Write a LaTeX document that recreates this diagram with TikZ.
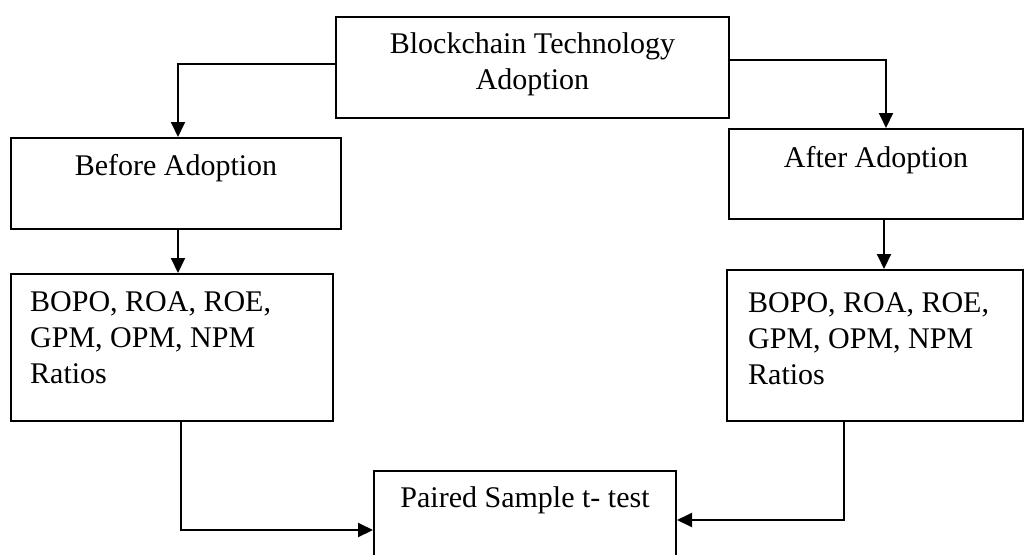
\documentclass[tikz,border=0pt]{standalone}
\usepackage{fontspec}
\setmainfont{Liberation Serif}
\usetikzlibrary{positioning,arrows.meta}

\begin{document}
\begin{tikzpicture}[
    x=1pt, y=-1pt,
    box/.style={rectangle, draw, line width=2pt, anchor=north west, inner sep=0pt},
    txt/.style={inner sep=0pt, font=\fontsize{30}{36}\selectfont},
    arrow/.style={-{Triangle[length=15pt,width=14pt]}, line width=2pt}
]
    \clip (0,0) rectangle (1024,554);

    % Boxes
    \node[box, minimum width=393pt, minimum height=101pt] (adopt) at (335,16) {};
    \node[box, minimum width=330pt, minimum height=91pt] (before) at (10,137) {};
    \node[box, minimum width=294pt, minimum height=90pt] (after) at (728,128) {};
    \node[box, minimum width=322pt, minimum height=147pt] (ratiob) at (10,273) {};
    \node[box, minimum width=296pt, minimum height=151pt] (ratioa) at (726,269) {};
    \node[box, minimum width=302pt, minimum height=118pt] (paired) at (373,470) {};

    % Texts
    \node[txt, align=center, below=16.5pt of adopt.north] (adopttxt) {Blockchain Technology\\Adoption};
    \node[txt, below=17.5pt of before.north] (beforetxt) {Before Adoption};
    \node[txt, below=18.5pt of after.north] (aftertxt) {After Adoption};
    \node[txt, align=left, below right=18.5pt and 20pt of ratiob.north west] (ratiobtxt) {BOPO, ROA, ROE,\\GPM, OPM, NPM\\Ratios};
    \node[txt, align=left, below right=23.5pt and 22pt of ratioa.north west] (ratioatxt) {BOPO, ROA, ROE,\\GPM, OPM, NPM\\Ratios};
    \node[txt, below=16.5pt of paired.north] (pairedtxt) {Paired Sample t- test};

    % Arrows
    \draw[arrow] ([yshift=3.5pt]adopt.west) -| ([xshift=2pt]before.north);
    \draw[arrow] ([yshift=7.5pt]adopt.east) -| ([xshift=10pt]after.north);
    \draw[arrow] ([xshift=2pt]before.south) -- ([xshift=2pt]before.south |- ratiob.north);
    \draw[arrow] ([xshift=8pt]after.south) -- ([xshift=8pt]after.south |- ratioa.north);
    \draw[arrow] ([xshift=9pt]ratiob.south) |- (paired.west);
    \draw[arrow] ([xshift=-31pt]ratioa.south) |- ([yshift=10pt]paired.east);
\end{tikzpicture}
\end{document}
